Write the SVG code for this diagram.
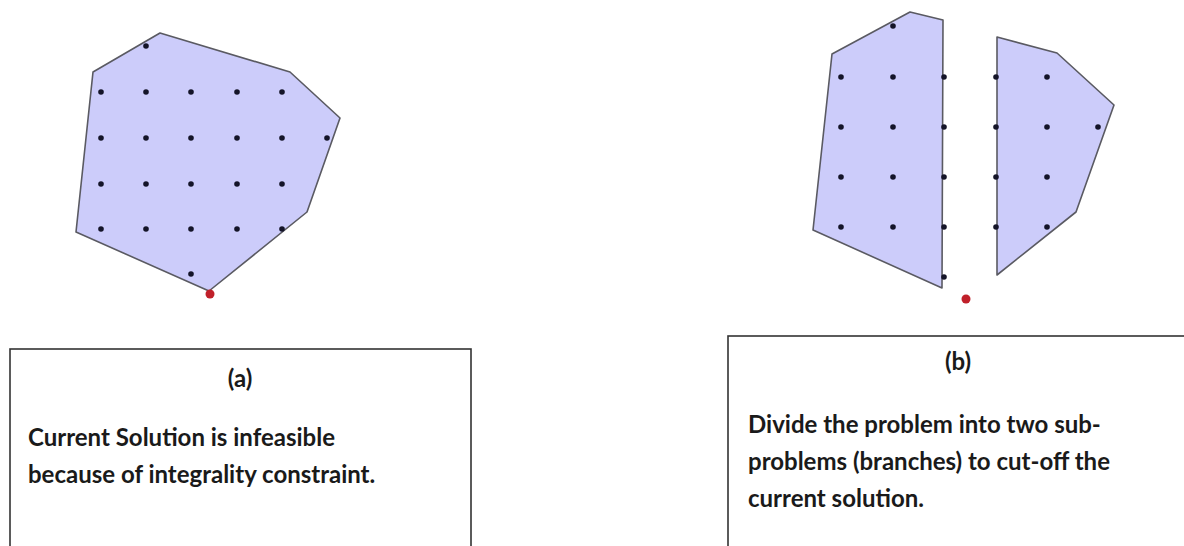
<svg xmlns="http://www.w3.org/2000/svg" width="1184" height="546" viewBox="0 0 1184 546">
<style>
.poly{fill:#ccccfa;stroke:#5a5a62;stroke-width:1.6;stroke-linejoin:round}
.box{fill:#ffffff;stroke:#333333;stroke-width:1.6}
.t{font-family:Lato,"Open Sans","Liberation Sans",sans-serif;font-weight:bold;font-size:24px;fill:#1a1a1a}
.pt{fill:#141428}
.sol{fill:#c0202a}
</style>
<defs>
<circle id="d" r="2.8" class="pt"/>
</defs>
<rect width="1184" height="546" fill="#ffffff"/>

<g id="region-a">
<polygon class="poly" points="160,33 93,72 76,232 209,291 307,212 340,118 290,72"/>
<g>
<use href="#d" x="146" y="46"/>
<use href="#d" x="101" y="92"/><use href="#d" x="146" y="92"/><use href="#d" x="191" y="92"/><use href="#d" x="237" y="92"/><use href="#d" x="282" y="92"/>
<use href="#d" x="101" y="138"/><use href="#d" x="146" y="138"/><use href="#d" x="191" y="138"/><use href="#d" x="237" y="138"/><use href="#d" x="282" y="138"/><use href="#d" x="327" y="138"/>
<use href="#d" x="101" y="184"/><use href="#d" x="146" y="184"/><use href="#d" x="191" y="184"/><use href="#d" x="237" y="184"/><use href="#d" x="282" y="184"/>
<use href="#d" x="101" y="229"/><use href="#d" x="146" y="229"/><use href="#d" x="191" y="229"/><use href="#d" x="237" y="229"/><use href="#d" x="282" y="229"/>
<use href="#d" x="191" y="274"/>
</g>
<circle class="sol" cx="210" cy="294" r="4.5"/>
</g>

<g id="region-b">
<polygon class="poly" points="910,12 943,20 942,288 813,230 832,54"/>
<polygon class="poly" points="997,37 1057,53 1114,105 1076,212 997,275"/>
<g>
<use href="#d" x="893" y="26"/>
<use href="#d" x="841" y="77"/><use href="#d" x="893" y="77"/><use href="#d" x="944" y="77"/><use href="#d" x="996" y="77"/><use href="#d" x="1047" y="77"/>
<use href="#d" x="841" y="127"/><use href="#d" x="893" y="127"/><use href="#d" x="944" y="127"/><use href="#d" x="996" y="127"/><use href="#d" x="1047" y="127"/><use href="#d" x="1098" y="127"/>
<use href="#d" x="841" y="177"/><use href="#d" x="893" y="177"/><use href="#d" x="944" y="177"/><use href="#d" x="996" y="177"/><use href="#d" x="1047" y="177"/>
<use href="#d" x="841" y="227"/><use href="#d" x="893" y="227"/><use href="#d" x="944" y="227"/><use href="#d" x="996" y="227"/><use href="#d" x="1047" y="227"/>
<use href="#d" x="944" y="277"/>
</g>
<circle class="sol" cx="966" cy="299" r="4.5"/>
</g>

<g id="caption-a">
<rect class="box" x="10" y="349" width="461" height="210"/>
<text class="t" x="240" y="387" text-anchor="middle">(a)</text>
<text class="t" x="28" y="446">Current Solution is infeasible</text>
<text class="t" x="28" y="483">because of integrality constraint.</text>
</g>

<g id="caption-b">
<rect class="box" x="728" y="336" width="470" height="220"/>
<text class="t" x="958" y="370" text-anchor="middle">(b)</text>
<text class="t" x="748" y="433">Divide the problem into two sub-</text>
<text class="t" x="748" y="470">problems (branches) to cut-off the</text>
<text class="t" x="748" y="507">current solution.</text>
</g>
</svg>
